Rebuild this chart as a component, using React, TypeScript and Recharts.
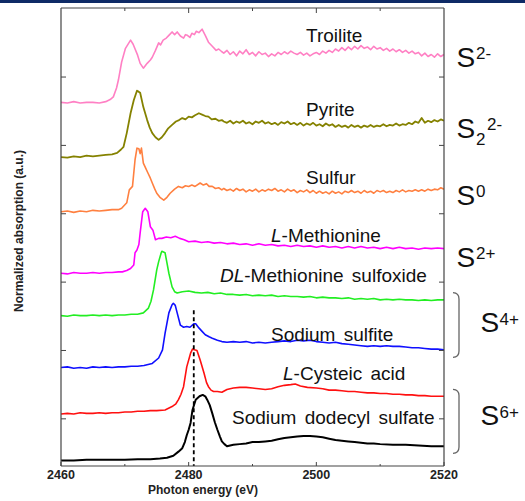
import React from 'react';
import { LineChart, Line, XAxis, YAxis, ReferenceLine } from 'recharts';

type P = [number, number];

// Photon energy (eV) vs normalized absorption (offset, a.u.)
const troilite: P[] = [
  [2460, 4.63], [2461, 4.62], [2462, 4.64], [2463, 4.62], [2464, 4.63], [2465, 4.63], [2466, 4.62], [2467, 4.64],
  [2467.7, 4.67], [2468.2, 4.71], [2468.7, 4.84], [2469.0, 4.96], [2469.5, 5.22], [2470.1, 5.42], [2470.9, 5.54],
  [2471.3, 5.48], [2472.0, 5.32], [2472.4, 5.2], [2472.9, 5.13], [2473.5, 5.2], [2474.0, 5.25], [2474.3, 5.29],
  [2474.8, 5.39], [2475.3, 5.5], [2475.6, 5.47], [2476.0, 5.54], [2476.5, 5.57], [2476.9, 5.61], [2477.4, 5.66],
  [2477.8, 5.62], [2478.2, 5.66], [2478.7, 5.6], [2479.2, 5.57], [2479.5, 5.62], [2479.8, 5.61], [2480.2, 5.58],
  [2480.5, 5.64], [2480.9, 5.62], [2481.2, 5.67], [2481.6, 5.65], [2482.1, 5.7], [2482.6, 5.61], [2483.1, 5.51],
  [2483.7, 5.45], [2484.3, 5.39], [2484.7, 5.41], [2485.2, 5.37],
  [2485.5, 5.35], [2486, 5.39], [2486.5, 5.33], [2487, 5.37], [2487.5, 5.31], [2488, 5.38], [2488.5, 5.34], [2489, 5.4],
  [2489.5, 5.33], [2490, 5.36], [2490.5, 5.31], [2491, 5.37], [2491.5, 5.33], [2492, 5.35], [2492.5, 5.3], [2493, 5.34],
  [2493.5, 5.31], [2494, 5.36], [2494.5, 5.33], [2495, 5.37], [2495.5, 5.34], [2496, 5.38], [2496.5, 5.35], [2497, 5.33],
  [2497.5, 5.36], [2498, 5.32], [2498.5, 5.35], [2499, 5.31], [2499.5, 5.34], [2500, 5.36], [2500.5, 5.33], [2501, 5.38],
  [2501.5, 5.35], [2502, 5.39], [2502.5, 5.36], [2503, 5.41], [2503.5, 5.38], [2504, 5.43], [2504.5, 5.39], [2505, 5.44],
  [2505.5, 5.4], [2506, 5.45], [2506.5, 5.41], [2507, 5.46], [2507.5, 5.42], [2508, 5.44], [2508.5, 5.4], [2509, 5.45],
  [2509.5, 5.41], [2510, 5.43], [2510.5, 5.39], [2511, 5.42], [2511.5, 5.38], [2512, 5.41], [2512.5, 5.37], [2513, 5.4],
  [2513.5, 5.36], [2514, 5.39], [2514.5, 5.35], [2515, 5.38], [2515.5, 5.34], [2516, 5.36], [2516.5, 5.31], [2517, 5.35],
  [2517.5, 5.3], [2518, 5.33], [2518.5, 5.29], [2519, 5.34], [2519.5, 5.3], [2520, 5.33],
];

const pyrite: P[] = [
  [2460, 3.83], [2461, 3.82], [2462, 3.84], [2463, 3.83], [2464, 3.85], [2465, 3.84], [2466, 3.85], [2467, 3.86],
  [2468, 3.87], [2468.8, 3.89], [2469.4, 3.94], [2469.8, 3.98], [2470.3, 4.18], [2470.9, 4.47], [2471.4, 4.66],
  [2471.9, 4.8], [2472.1, 4.79], [2472.4, 4.77], [2472.9, 4.56], [2473.5, 4.37], [2473.9, 4.26], [2474.3, 4.18],
  [2474.8, 4.12], [2475.3, 4.08], [2475.8, 4.12], [2476.3, 4.18], [2476.8, 4.25], [2477.4, 4.3], [2478.0, 4.35],
  [2478.5, 4.37], [2479.0, 4.4], [2479.5, 4.38], [2480.0, 4.42], [2480.5, 4.41], [2481.0, 4.44], [2481.6, 4.47],
  [2482.1, 4.45], [2482.6, 4.43], [2483.1, 4.42], [2483.6, 4.38], [2484.2, 4.39], [2484.7, 4.36], [2485.2, 4.37],
  [2485.5, 4.35], [2486, 4.33], [2486.5, 4.36], [2487, 4.32], [2487.5, 4.35], [2488, 4.33], [2488.5, 4.36], [2489, 4.32],
  [2489.5, 4.34], [2490, 4.31], [2490.5, 4.35], [2491, 4.33], [2491.5, 4.36], [2492, 4.32], [2492.5, 4.34], [2493, 4.31],
  [2493.5, 4.33], [2494, 4.3], [2494.5, 4.34], [2495, 4.32], [2495.5, 4.35], [2496, 4.31], [2496.5, 4.33], [2497, 4.3],
  [2497.5, 4.33], [2498, 4.29], [2498.5, 4.32], [2499, 4.3], [2499.5, 4.33], [2500, 4.29], [2500.5, 4.31], [2501, 4.28],
  [2501.5, 4.32], [2502, 4.29], [2502.5, 4.31], [2503, 4.27], [2503.5, 4.3], [2504, 4.27], [2504.5, 4.29], [2505, 4.26],
  [2505.5, 4.3], [2506, 4.27], [2506.5, 4.29], [2507, 4.26], [2507.5, 4.29], [2508, 4.27], [2508.5, 4.3], [2509, 4.27],
  [2509.5, 4.29], [2510, 4.28], [2510.5, 4.31], [2511, 4.28], [2511.5, 4.3], [2512, 4.29], [2512.5, 4.32], [2513, 4.29],
  [2513.5, 4.31], [2514, 4.3], [2514.5, 4.33], [2515, 4.31], [2515.5, 4.35], [2516, 4.33], [2516.5, 4.4], [2517, 4.33],
  [2517.5, 4.36], [2518, 4.34], [2518.5, 4.37], [2519, 4.35], [2519.5, 4.38], [2520, 4.36],
];

const sulfur: P[] = [
  [2460, 3.03], [2461, 3.04], [2462, 3.02], [2463, 3.04], [2464, 3.03], [2465, 3.05], [2466, 3.04], [2467, 3.05],
  [2468, 3.06], [2469, 3.06], [2469.5, 3.08], [2470.3, 3.16], [2470.7, 3.35], [2471.2, 3.4], [2471.6, 3.79],
  [2471.9, 3.96], [2472.2, 3.95], [2472.4, 3.88], [2472.6, 3.96], [2472.9, 3.74], [2473.3, 3.66], [2473.6, 3.6],
  [2474.0, 3.52], [2474.3, 3.45], [2474.7, 3.36], [2475.0, 3.3], [2475.5, 3.24], [2476.1, 3.2], [2476.6, 3.24],
  [2477.1, 3.3], [2477.8, 3.36], [2478.4, 3.4], [2479.0, 3.38], [2479.5, 3.41], [2480.0, 3.4], [2480.5, 3.42],
  [2481.0, 3.4], [2481.8, 3.45], [2482.3, 3.42], [2482.8, 3.44], [2483.2, 3.4], [2483.7, 3.4], [2484.2, 3.37],
  [2484.7, 3.38], [2485.2, 3.35],
  [2485.5, 3.37], [2486, 3.34], [2486.5, 3.36], [2487, 3.33], [2487.5, 3.37], [2488, 3.34], [2488.5, 3.36], [2489, 3.32],
  [2489.5, 3.35], [2490, 3.33], [2490.5, 3.36], [2491, 3.32], [2491.5, 3.35], [2492, 3.33], [2492.5, 3.36], [2493, 3.34],
  [2493.5, 3.37], [2494, 3.33], [2494.5, 3.35], [2495, 3.32], [2495.5, 3.36], [2496, 3.33], [2496.5, 3.35], [2497, 3.31],
  [2497.5, 3.34], [2498, 3.32], [2498.5, 3.35], [2499, 3.31], [2499.5, 3.34], [2500, 3.3], [2500.5, 3.33], [2501, 3.3],
  [2501.5, 3.32], [2502, 3.29], [2502.5, 3.33], [2503, 3.3], [2503.5, 3.32], [2504, 3.29], [2504.5, 3.33], [2505, 3.31],
  [2505.5, 3.34], [2506, 3.31], [2506.5, 3.33], [2507, 3.3], [2507.5, 3.34], [2508, 3.31], [2508.5, 3.33], [2509, 3.3],
  [2509.5, 3.34], [2510, 3.32], [2510.5, 3.34], [2511, 3.31], [2511.5, 3.33], [2512, 3.31], [2512.5, 3.34], [2513, 3.32],
  [2513.5, 3.35], [2514, 3.32], [2514.5, 3.34], [2515, 3.33], [2515.5, 3.35], [2516, 3.33], [2516.5, 3.35], [2517, 3.33],
  [2517.5, 3.36], [2518, 3.34], [2518.5, 3.36], [2519, 3.35], [2519.5, 3.38], [2520, 3.36],
];

const methionine: P[] = [
  [2460, 2.13], [2461, 2.12], [2462, 2.14], [2463, 2.13], [2464, 2.13], [2465, 2.14], [2466, 2.13], [2467, 2.14],
  [2468, 2.14], [2469, 2.15], [2469.6, 2.15], [2470.3, 2.17], [2470.9, 2.2], [2471.4, 2.25], [2471.6, 2.43],
  [2471.9, 2.47], [2472.2, 2.55], [2472.4, 2.72], [2472.8, 3.03], [2473.2, 3.08], [2473.6, 3.03], [2474.0, 2.81],
  [2474.4, 2.76], [2474.8, 2.62], [2475.3, 2.64], [2475.8, 2.64], [2476.5, 2.66], [2477.2, 2.65], [2477.9, 2.67],
  [2478.6, 2.64], [2479.3, 2.62], [2480.0, 2.59], [2481, 2.6], [2482, 2.58], [2483, 2.59], [2484, 2.57], [2485, 2.58],
  [2486, 2.56], [2487, 2.57], [2488, 2.55], [2489, 2.56], [2490, 2.54], [2491, 2.56], [2492, 2.54], [2493, 2.55],
  [2494, 2.53], [2495, 2.54], [2496, 2.52], [2497, 2.54], [2498, 2.52], [2499, 2.53], [2500, 2.51], [2501, 2.53],
  [2502, 2.51], [2503, 2.52], [2504, 2.5], [2505, 2.52], [2506, 2.5], [2507, 2.52], [2508, 2.5], [2509, 2.51],
  [2510, 2.49], [2511, 2.51], [2512, 2.49], [2513, 2.51], [2514, 2.49], [2515, 2.5], [2516, 2.48], [2517, 2.5],
  [2518, 2.49], [2519, 2.5], [2520, 2.49],
];

const sulfoxide: P[] = [
  [2460, 1.51], [2461, 1.5], [2462, 1.52], [2463, 1.51], [2464, 1.51], [2465, 1.52], [2466, 1.51], [2467, 1.52],
  [2468, 1.51], [2469, 1.52], [2470, 1.52], [2471, 1.53], [2472, 1.53], [2472.9, 1.55], [2473.7, 1.62], [2474.1, 1.72],
  [2474.5, 1.89], [2475.0, 2.18], [2475.3, 2.3], [2475.7, 2.43], [2475.8, 2.45], [2476.3, 2.43], [2476.6, 2.28],
  [2476.9, 2.13], [2477.4, 1.93], [2477.8, 1.86], [2478.2, 1.84], [2479, 1.86], [2480, 1.87], [2481, 1.85], [2482, 1.84],
  [2483, 1.85], [2484, 1.83], [2485, 1.84], [2486, 1.82], [2487, 1.82], [2488, 1.81], [2489, 1.82], [2490, 1.8],
  [2491, 1.81], [2492, 1.8], [2493, 1.81], [2494, 1.79], [2495, 1.8], [2496, 1.79], [2497, 1.79], [2498, 1.78],
  [2499, 1.79], [2500, 1.77], [2501, 1.78], [2502, 1.77], [2503, 1.77], [2504, 1.76], [2505, 1.77], [2506, 1.75],
  [2507, 1.76], [2508, 1.75], [2509, 1.76], [2510, 1.74], [2511, 1.75], [2512, 1.74], [2513, 1.75], [2514, 1.74],
  [2515, 1.74], [2516, 1.73], [2517, 1.74], [2518, 1.73], [2519, 1.74], [2520, 1.74],
];

const sulfite: P[] = [
  [2460, 0.75], [2461, 0.76], [2462, 0.74], [2463, 0.75], [2464, 0.74], [2465, 0.76], [2466, 0.75], [2467, 0.76],
  [2468, 0.75], [2469, 0.76], [2470, 0.76], [2471, 0.77], [2472, 0.77], [2473, 0.78], [2474.3, 0.81], [2475.3, 0.89],
  [2475.9, 1.01], [2476.3, 1.25], [2476.9, 1.55], [2477.4, 1.67], [2477.6, 1.69], [2477.9, 1.66], [2478.2, 1.55],
  [2478.7, 1.37], [2479.2, 1.34], [2479.7, 1.35], [2480.2, 1.34], [2480.8, 1.39], [2481.1, 1.39], [2481.6, 1.33],
  [2482.1, 1.28], [2482.6, 1.23], [2483.2, 1.2], [2483.7, 1.18], [2484.5, 1.15], [2485.2, 1.13], [2486, 1.12],
  [2487, 1.13], [2488, 1.12], [2489, 1.13], [2490, 1.11], [2491, 1.12], [2492, 1.11], [2493, 1.12], [2494, 1.13],
  [2495, 1.14], [2496, 1.13], [2497, 1.15], [2498, 1.14], [2499, 1.15], [2500, 1.13], [2501, 1.12], [2502, 1.11],
  [2503, 1.12], [2504, 1.1], [2505, 1.09], [2506, 1.08], [2507, 1.07], [2508, 1.06], [2509, 1.07], [2510, 1.06],
  [2511, 1.07], [2512, 1.06], [2513, 1.06], [2514, 1.05], [2515, 1.04], [2516, 1.04], [2517, 1.03], [2518, 1.02],
  [2519, 1.02], [2520, 1.01],
];

const cysteic: P[] = [
  [2460, 0.07], [2461, 0.08], [2462, 0.07], [2463, 0.09], [2464, 0.08], [2465, 0.08], [2466, 0.09], [2467, 0.08],
  [2468, 0.09], [2469, 0.09], [2470, 0.1], [2471, 0.1], [2472, 0.11], [2473, 0.11], [2474, 0.12], [2475, 0.12],
  [2476.3, 0.13], [2477.4, 0.18], [2478.0, 0.22], [2478.4, 0.28], [2478.8, 0.36], [2479.2, 0.47], [2479.7, 0.76],
  [2480.3, 0.96], [2480.6, 1.02], [2480.9, 1.01], [2481.3, 1.0], [2481.8, 0.86], [2482.4, 0.67], [2482.8, 0.53],
  [2483.1, 0.47], [2483.5, 0.42], [2483.9, 0.4], [2484.5, 0.4], [2485.2, 0.39], [2486, 0.43], [2487, 0.45],
  [2488, 0.46], [2489, 0.46], [2490, 0.45], [2491, 0.44], [2492, 0.43], [2493, 0.44], [2494, 0.47], [2495, 0.49],
  [2496, 0.5], [2496.7, 0.51], [2497.5, 0.48], [2498.6, 0.46], [2500, 0.45], [2501, 0.44], [2502, 0.42], [2503, 0.42],
  [2504, 0.41], [2505, 0.4], [2506, 0.4], [2507, 0.39], [2508, 0.38], [2509, 0.38], [2510, 0.37], [2511, 0.37],
  [2512, 0.36], [2513, 0.36], [2514, 0.35], [2515, 0.35], [2516, 0.34], [2517, 0.34], [2518, 0.33], [2519, 0.33],
  [2520, 0.33],
];

const sds: P[] = [
  [2460, -0.61], [2462, -0.61], [2464, -0.6], [2466, -0.6], [2468, -0.6], [2470, -0.6], [2472, -0.59], [2474, -0.59],
  [2475.5, -0.58], [2476.6, -0.57], [2477.6, -0.54], [2478.4, -0.48], [2479.0, -0.43], [2479.4, -0.34],
  [2479.7, -0.24], [2480.0, -0.16], [2480.3, -0.06], [2480.6, 0.13], [2481.1, 0.28], [2481.7, 0.33], [2482.2, 0.35],
  [2482.6, 0.33], [2482.9, 0.28], [2483.3, 0.2], [2483.7, 0.08], [2484.1, -0.05], [2484.5, -0.16], [2484.9, -0.26],
  [2485.2, -0.33], [2485.6, -0.37], [2486.0, -0.4], [2487, -0.38], [2488, -0.37], [2489, -0.36], [2490, -0.34],
  [2491, -0.34], [2492, -0.33], [2493, -0.32], [2494, -0.3], [2495, -0.28], [2496, -0.27], [2497, -0.26],
  [2498, -0.25], [2499, -0.25], [2500, -0.26], [2501, -0.27], [2502, -0.29], [2503, -0.31], [2504, -0.32],
  [2505, -0.33], [2506, -0.34], [2507, -0.35], [2508, -0.36], [2509, -0.36], [2510, -0.37], [2512, -0.38],
  [2514, -0.38], [2516, -0.39], [2518, -0.4], [2520, -0.4],
];

const xDomain: [number, number] = [2460, 2520];
const yDomain: [number, number] = [-0.69, 6.01];
const xTicks = [2460, 2470, 2480, 2490, 2500, 2510, 2520];
const xLabelTicks = [2460, 2480, 2500, 2520];
const yTicks = [0, 1, 2, 3, 4, 5];
const dashedEnergy = 2480.8;
const dashedTop = 1.59;

const FONT = '"Liberation Sans", Arial, Helvetica, sans-serif';
const AXIS = '#444';

const pts = (a: P[]) => a.map(([e, v]) => ({ e, v }));

const series = [
  { name: 'Troilite', data: troilite, color: '#ff80c4', w: 1.6 },
  { name: 'Pyrite', data: pyrite, color: '#858200', w: 1.8 },
  { name: 'Sulfur', data: sulfur, color: '#ff8040', w: 1.6 },
  { name: 'L-Methionine', data: methionine, color: '#ff00ff', w: 1.6 },
  { name: 'DL-Methionine sulfoxide', data: sulfoxide, color: '#22ee22', w: 1.6 },
  { name: 'Sodium sulfite', data: sulfite, color: '#1010ff', w: 1.6 },
  { name: 'L-Cysteic acid', data: cysteic, color: '#ff1010', w: 1.6 },
  { name: 'Sodium dodecyl sulfate', data: sds, color: '#000000', w: 2 },
];

const BottomTick = (props: any) => {
  const { x, y, payload } = props;
  const major = xLabelTicks.includes(payload.value);
  return (
    <g>
      <line x1={x} x2={x} y1={y} y2={y - (major ? 4 : 2)} stroke={AXIS} strokeWidth={1} />
      {major && (
        <text x={x} y={y + 13} textAnchor="middle" fontSize={12.5} fontWeight="bold" fill="#222" fontFamily={FONT}>
          {payload.value}
        </text>
      )}
    </g>
  );
};

const TopTick = (props: any) => {
  const { x, y, payload } = props;
  const major = xLabelTicks.includes(payload.value);
  return <line x1={x} x2={x} y1={y} y2={y + (major ? 5 : 3)} stroke={AXIS} strokeWidth={1} />;
};

const LeftTick = (props: any) => {
  const { x, y } = props;
  return <line x1={x} x2={x + 5} y1={y} y2={y} stroke={AXIS} strokeWidth={1} />;
};

const RightTick = (props: any) => {
  const { x, y } = props;
  return <line x1={x - 5} x2={x} y1={y} y2={y} stroke={AXIS} strokeWidth={1} />;
};

const lbl = { fontFamily: FONT, fontSize: 19, fill: '#111', wordSpacing: 3 } as const;
const big = { fontFamily: FONT, fontSize: 28, fill: '#111' } as const;
const sup = { fontFamily: FONT, fontSize: 17, fill: '#111' } as const;

export default function App() {
  return (
    <div style={{ position: 'fixed', left: 0, top: 0, width: 525, height: 501, background: '#fff', overflow: 'hidden' }}>
      <div style={{ position: 'absolute', left: 0, top: 0, width: 525, height: 3, background: '#0e2a66' }} />
      <div style={{ position: 'absolute', left: 0, top: 0 }}>
        <LineChart width={525} height={501} margin={{ top: 0, right: 0, bottom: 0, left: 0 }}>
          <XAxis
            xAxisId="t"
            orientation="top"
            type="number"
            dataKey="e"
            domain={xDomain}
            allowDataOverflow
            ticks={xTicks.slice(1, -1)}
            interval={0}
            height={8}
            tickSize={0}
            tickMargin={0}
            tickLine={false}
            tick={<TopTick />}
            axisLine={{ stroke: AXIS, strokeWidth: 1.2 }}
          />
          <XAxis
            xAxisId="b"
            orientation="bottom"
            type="number"
            dataKey="e"
            domain={xDomain}
            allowDataOverflow
            ticks={xTicks}
            interval={0}
            height={35}
            tickSize={0}
            tickMargin={0}
            tickLine={false}
            tick={<BottomTick />}
            axisLine={{ stroke: AXIS, strokeWidth: 1.2 }}
          />
          <YAxis
            yAxisId="l"
            orientation="left"
            type="number"
            domain={yDomain}
            allowDataOverflow
            ticks={yTicks}
            interval={0}
            width={61}
            tickSize={0}
            tickMargin={0}
            tickLine={false}
            tick={<LeftTick />}
            axisLine={{ stroke: AXIS, strokeWidth: 1.2 }}
          />
          <YAxis
            yAxisId="r"
            orientation="right"
            type="number"
            domain={yDomain}
            allowDataOverflow
            ticks={yTicks}
            interval={0}
            width={81}
            tickSize={0}
            tickMargin={0}
            tickLine={false}
            tick={<RightTick />}
            axisLine={{ stroke: AXIS, strokeWidth: 1.2 }}
          />
          {series.map((s) => (
            <Line
              key={s.name}
              name={s.name}
              xAxisId="b"
              yAxisId="l"
              data={pts(s.data)}
              dataKey="v"
              type="linear"
              stroke={s.color}
              strokeWidth={s.w}
              strokeLinejoin="round"
              dot={false}
              activeDot={false}
              isAnimationActive={false}
            />
          ))}
          <ReferenceLine
            xAxisId="b"
            yAxisId="l"
            segment={[
              { x: dashedEnergy, y: dashedTop },
              { x: dashedEnergy, y: yDomain[0] },
            ]}
            stroke="#000"
            strokeWidth={1.8}
            strokeDasharray="4 3"
          />
        </LineChart>
      </div>
      <svg width={525} height={501} style={{ position: 'absolute', left: 0, top: 0, pointerEvents: 'none' }}>
        <text x={306} y={42} {...lbl}>Troilite</text>
        <text x={306} y={116} {...lbl}>Pyrite</text>
        <text x={306} y={184} {...lbl}>Sulfur</text>
        <text x={271} y={242} {...lbl}><tspan fontStyle="italic">L</tspan>-Methionine</text>
        <text x={220} y={282} {...lbl}><tspan fontStyle="italic">DL</tspan>-Methionine sulfoxide</text>
        <text x={271} y={341} {...lbl}>Sodium sulfite</text>
        <text x={283} y={380} {...lbl}><tspan fontStyle="italic">L</tspan>-Cysteic acid</text>
        <text x={232} y={424} {...lbl}>Sodium dodecyl sulfate</text>

        <text x={456.5} y={67} {...big}>S</text>
        <text x={476} y={59} {...sup}>2-</text>
        <text x={456.5} y={138} {...big}>S</text>
        <text x={476} y={145} {...sup}>2</text>
        <text x={487} y={130} {...sup}>2-</text>
        <text x={456.5} y={205} {...big}>S</text>
        <text x={476} y={197} {...sup}>0</text>
        <text x={456.5} y={267} {...big}>S</text>
        <text x={476} y={259} {...sup}>2+</text>
        <text x={480.5} y={332} {...big}>S</text>
        <text x={499.5} y={325} {...sup}>4+</text>
        <text x={480.5} y={425} {...big}>S</text>
        <text x={499.5} y={418} {...sup}>6+</text>

        <path d="M453,292.7 Q459,293 459,299 L459,351 Q459,357.3 453,357.3" fill="none" stroke="#666" strokeWidth={1.3} />
        <path d="M453,389.3 Q459,389.6 459,395.6 L459,447 Q459,453.3 453,453.3" fill="none" stroke="#666" strokeWidth={1.3} />

        <text
          transform="translate(23,231) rotate(-90)"
          textAnchor="middle"
          fontFamily={FONT}
          fontSize={12}
          fontWeight="bold"
          fill="#222"
        >
          Normalized absorption (a.u.)
        </text>
        <text x={203} y={494} textAnchor="middle" fontFamily={FONT} fontSize={12} fontWeight="bold" fill="#222">
          Photon energy (eV)
        </text>
      </svg>
    </div>
  );
}
